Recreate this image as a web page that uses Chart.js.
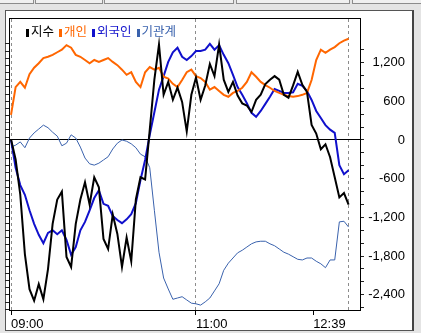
<!DOCTYPE html>
<html lang="ko">
<head>
<meta charset="utf-8">
<title>투자자별 매매동향</title>
<script src="https://cdnjs.cloudflare.com/ajax/libs/Chart.js/4.4.1/chart.umd.min.js"></script>
<style>
    html, body { margin: 0; padding: 0; }
    body { width: 421px; height: 333px; background: #e4e4e4; position: relative; overflow: hidden; }
    .tab { position: absolute; top: -6px; height: 8px; border: 1px solid #8c8c8c; background: #f0f0f0; }
    #panel { position: absolute; left: 5px; top: 10px; width: 406px; height: 319px; background: #fff;
             border: 1px solid #555; border-right: 2px solid #444; }
    #chart { position: absolute; left: 0; top: 0; }
    #legend { position: absolute; left: 26px; top: 21px; font: 12.5px 'Noto Sans CJK KR', sans-serif; white-space: nowrap; }
    #legend .item { margin-right: 5px; }
    #legend i { display: inline-block; width: 3px; height: 8px; margin-right: 2px; vertical-align: -1px; }
</style>
</head>
<body>
    <div class="tab" style="left:-2px;width:34px"></div>
    <div class="tab" style="left:35px;width:66px"></div>
    <div class="tab" style="left:104px;width:128px"></div>
    <div class="tab" style="left:236px;width:112px"></div>
    <div class="tab" style="left:352px;width:70px"></div>
    <div id="panel"></div>
    <canvas id="chart" width="421" height="333"></canvas>
    <div id="legend"></div>

<script>
    // 3 minute samples, 09:00 - 12:39
    const times = [
        '09:00','09:03','09:06','09:09','09:12','09:15','09:18','09:21','09:24','09:27',
        '09:30','09:33','09:36','09:39','09:42','09:45','09:48','09:51','09:54','09:57',
        '10:00','10:03','10:06','10:09','10:12','10:15','10:18','10:21','10:24','10:27',
        '10:30','10:33','10:36','10:39','10:42','10:45','10:48','10:51','10:54','10:57',
        '11:00','11:03','11:06','11:09','11:12','11:15','11:18','11:21','11:24','11:27',
        '11:30','11:33','11:36','11:39','11:42','11:45','11:48','11:51','11:54','11:57',
        '12:00','12:03','12:06','12:09','12:12','12:15','12:18','12:21','12:24','12:27',
        '12:30','12:33','12:36','12:39'
    ];

    // 지수 (left axis, no labels)
    const indexValues = [
        1976.7, 1973.9, 1969.0, 1960.7, 1955.8, 1954.2, 1956.5, 1954.4, 1958.6, 1964.9,
        1968.3, 1969.4, 1960.3, 1958.9, 1964.9, 1968.3, 1970.7, 1967.6, 1971.4, 1970.0,
        1962.8, 1961.4, 1966.2, 1963.5, 1958.9, 1963.0, 1959.7, 1968.3, 1971.4, 1971.1,
        1978.0, 1985.0, 1989.9, 1982.9, 1984.7, 1982.2, 1983.9, 1981.9, 1977.8, 1982.9,
        1985.3, 1982.2, 1984.2, 1987.2, 1985.5, 1989.9, 1985.0, 1983.3, 1984.7, 1982.8,
        1981.7, 1981.4, 1980.5, 1982.2, 1982.9, 1984.4, 1985.0, 1985.5, 1985.0, 1982.9,
        1982.5, 1984.2, 1986.1, 1984.3, 1983.3, 1978.7, 1977.5, 1975.3, 1976.0, 1974.2,
        1971.4, 1968.6, 1969.2, 1967.6
    ];

    // 개인
    const individual = [
        390, 820, 900, 810, 1020, 1120, 1190, 1270, 1290, 1320,
        1360, 1400, 1470, 1430, 1320, 1290, 1240, 1190, 1240, 1210,
        1240, 1270, 1210, 1160, 1090, 1010, 1050, 900, 820, 1050,
        1130, 1090, 1120, 980, 950, 870, 820, 930, 1050, 1090,
        990, 960, 900, 780, 820, 760, 700, 670, 730, 760,
        810, 900, 1050, 980, 900, 850, 810, 760, 730, 700,
        680, 670, 680, 700, 730, 930, 1240, 1400, 1350, 1400,
        1440, 1500, 1540, 1570
    ];

    // 외국인
    const foreign = [
        0, -430, -700, -850, -1090, -1300, -1470, -1600, -1440, -1400,
        -1460, -1400, -1550, -1780, -1660, -1400, -1270, -1090, -900, -780,
        -990, -1020, -1180, -1240, -1290, -1230, -1150, -980, -620, -310,
        80, 430, 780, 990, 1210, 1360, 1430, 1290, 1240, 1300,
        1380, 1380, 1400, 1490, 1400, 1470, 1320, 1190, 1010, 820,
        700, 570, 420, 360, 450, 560, 670, 790, 760, 730,
        730, 740, 870, 840, 760, 620, 450, 340, 230, 160,
        110, -390, -530, -470
    ];

    // 기관계
    const institution = [
        -110, -80, -30, -120, 30, 110, 170, 230, 190, 120,
        60, -90, -50, 80, 30, -110, -280, -370, -390, -360,
        -310, -260, -140, -50, 0, -20, -60, -120, -220, -260,
        -430, -1090, -1740, -2140, -2310, -2470, -2450, -2430, -2480, -2530,
        -2540, -2560, -2510, -2450, -2340, -2230, -2020, -1910, -1830, -1750,
        -1710, -1660, -1610, -1580, -1570, -1570, -1610, -1640, -1690, -1740,
        -1770, -1810, -1850, -1860, -1830, -1830, -1880, -1920, -1980, -1860,
        -1860, -1270, -1260, -1350
    ];

    const seriesNames = ['지수', '개인', '외국인', '기관계'];
    const xTickLabels = ['09:00', '11:00', '12:39'];

    // axis ranges
    const xMin = -1.3, xMax = 226.4;
    const netMin = -2636, netMax = 1891;
    const idxMin = 1952.9, idxMax = 1993.6;
    const netTop = 1400, idxTop = 1990;  // no ticks above these (legend band)
    const LAST_TICK_PULL = 23; // last time label is pulled left so it stays inside the frame

    const colors = ['#000000', '#ff6600', '#1010cc', '#3a62ad'];
    const widths = [2, 2, 2, 1];

    const toMin = t => { const [h, m] = t.split(':').map(Number); return (h - 9) * 60 + m; };
    const minutes = times.map(toMin);
    const pts = vals => vals.map((v, i) => ({x: minutes[i], y: v}));

    Chart.defaults.font.family = "'Liberation Sans', Arial, sans-serif";
    Chart.defaults.font.size = 13;
    Chart.defaults.color = '#000';

    const seriesData = [indexValues, individual, foreign, institution];

    new Chart(document.getElementById('chart'), {
        type: 'line',
        data: {
            datasets: seriesNames.map((name, i) => ({
                label: name,
                data: pts(seriesData[i]),
                yAxisID: i === 0 ? 'idx' : 'net',
                borderColor: colors[i],
                borderWidth: widths[i],
                pointRadius: 0,
                tension: 0
            }))
        },
        options: {
            responsive: false,
            animation: false,
            layout: { padding: { left: 5, right: 16, top: 18, bottom: 0 } },
            plugins: { legend: { display: false }, tooltip: { enabled: false } },
            scales: {
                x: {
                    type: 'linear', position: 'bottom', min: xMin, max: xMax,
                    afterBuildTicks: s => {
                        s.ticks = xTickLabels.map((t, i) => ({
                            value: toMin(t) - (i === xTickLabels.length - 1 ? LAST_TICK_PULL : 0)
                        }));
                    },
                    afterFit: s => { s.height = 23; },
                    grid: { drawOnChartArea: false, tickLength: 5, tickColor: '#000' },
                    border: { display: true, color: '#000' },
                    ticks: { autoSkip: false, maxRotation: 0, align: 'start', padding: 2,
                             callback: (v, i) => xTickLabels[i] }
                },
                xg: {
                    type: 'linear', position: 'top', min: xMin, max: xMax,
                    afterBuildTicks: s => { s.ticks = xTickLabels.map(t => ({ value: toMin(t) })); },
                    afterFit: s => { s.height = 0; },
                    grid: { color: '#8c8c8c', drawTicks: false },
                    border: { display: true, color: '#000', dash: [3, 3] },
                    ticks: { display: false }
                },
                idx: {
                    type: 'linear', position: 'left', min: idxMin, max: idxMax,
                    afterFit: s => { s.width = 4; },
                    grid: { drawOnChartArea: false, tickLength: 4,
                            tickColor: c => c.tick && c.tick.value > idxTop ? 'transparent' : '#222' },
                    border: { display: true, color: '#000' },
                    ticks: { display: false, stepSize: 1, includeBounds: false, autoSkip: false }
                },
                net: {
                    type: 'linear', position: 'right', min: netMin, max: netMax,
                    afterFit: s => { s.width = 45; },
                    grid: { color: c => c.tick && c.tick.value === 0 ? '#000' : 'transparent',
                            tickLength: 4,
                            tickColor: c => c.tick && c.tick.value > netTop ? 'transparent' : '#222' },
                    border: { display: true, color: '#000' },
                    ticks: { stepSize: 200, includeBounds: false, autoSkip: false, padding: 3, crossAlign: 'far',
                             callback: v => (v % 600 === 0 && v <= netTop) ? v.toLocaleString('en-US') : '' }
                }
            }
        }
    });

    // legend sits inside the plot, top left
    const legend = document.getElementById('legend');
    seriesNames.forEach((name, i) => {
        const item = document.createElement('span');
        item.className = 'item';
        item.style.color = colors[i];
        item.innerHTML = '<i style="background:' + colors[i] + '"></i>' + name;
        legend.appendChild(item);
    });
</script>
</body>
</html>
